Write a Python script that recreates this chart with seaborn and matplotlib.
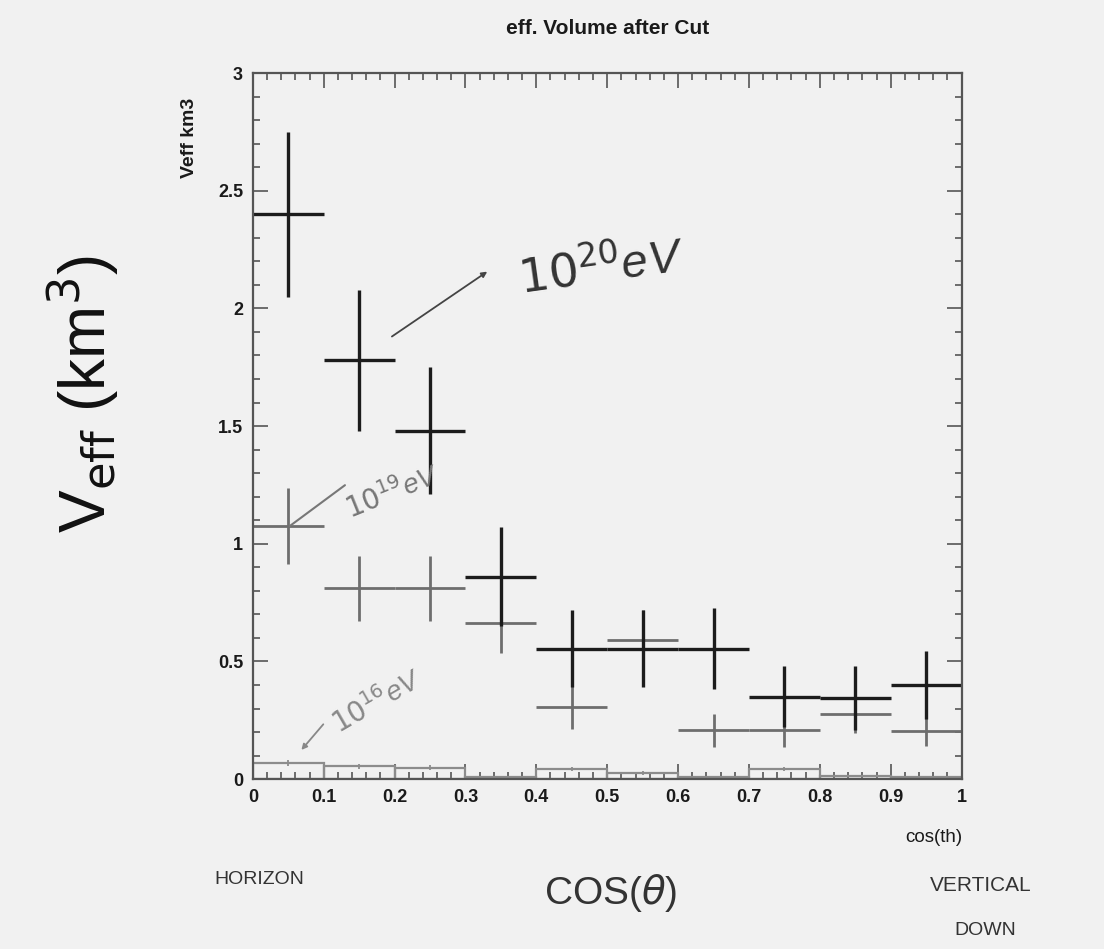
import numpy as np
import pandas as pd
import seaborn as sns
import matplotlib.pyplot as plt
from matplotlib.ticker import MultipleLocator


# bin centres in cos(theta), 10 bins of 0.1
cos_th = [0.05, 0.15, 0.25, 0.35, 0.45, 0.55, 0.65, 0.75, 0.85, 0.95]
bin_edges = [0.0, 0.1, 0.2, 0.3, 0.4, 0.5, 0.6, 0.7, 0.8, 0.9, 1.0]

# 10^20 eV
v20 = [2.40, 1.78, 1.48, 0.86, 0.555, 0.555, 0.555, 0.35, 0.345, 0.40]
e20 = [0.35, 0.30, 0.27, 0.21, 0.165, 0.165, 0.17, 0.13, 0.135, 0.145]
# 10^19 eV
v19 = [1.075, 0.81, 0.81, 0.665, 0.305, 0.59, 0.208, 0.208, 0.275, 0.205]
e19 = [0.16, 0.14, 0.14, 0.13, 0.09, 0.13, 0.07, 0.07, 0.08, 0.065]
# 10^16 eV
v16 = [0.069, 0.055, 0.049, 0.007, 0.043, 0.026, 0.007, 0.043, 0.012, 0.007]
e16 = [0.012, 0.010, 0.010, 0.004, 0.009, 0.007, 0.004, 0.009, 0.005, 0.004]

x_ticks = [0, 0.1, 0.2, 0.3, 0.4, 0.5, 0.6, 0.7, 0.8, 0.9, 1]
x_ticklabels = ["0", "0.1", "0.2", "0.3", "0.4", "0.5", "0.6", "0.7", "0.8", "0.9", "1"]
y_ticks = [0, 0.5, 1, 1.5, 2, 2.5, 3]
y_ticklabels = ["0", "0.5", "1", "1.5", "2", "2.5", "3"]

df16 = pd.DataFrame({"cos": cos_th, "veff": v16})

sns.set_theme(style="ticks")
plt.rcParams["font.family"] = ["Liberation Sans", "DejaVu Sans"]

bg = "#f1f1f1"
fig = plt.figure(figsize=(11.04, 9.49), dpi=100, facecolor=bg)
ax = fig.add_axes([0.229, 0.179, 0.642, 0.744])
ax.set_facecolor(bg)

# 10^16 eV histogram outline
sns.histplot(data=df16, x="cos", weights="veff", bins=bin_edges, fill=False,
             element="bars", color="#8c8c8c", linewidth=1.6, ax=ax)
ax.errorbar(cos_th, v16, yerr=e16, fmt="none", ecolor="#8c8c8c", elinewidth=1.3)

# 10^19 eV
ax.errorbar(cos_th, v19, xerr=0.05, yerr=e19, fmt="none", ecolor="#6e6e6e",
            elinewidth=2.0, capsize=0)
# 10^20 eV
ax.errorbar(cos_th, v20, xerr=0.05, yerr=e20, fmt="none", ecolor="#1c1c1c",
            elinewidth=2.4, capsize=0)

ax.set_xlim(0, 1)
ax.set_ylim(0, 3)
ax.set_xticks(x_ticks)
ax.set_xticklabels(x_ticklabels)
ax.set_yticks(y_ticks)
ax.set_yticklabels(y_ticklabels)
ax.xaxis.set_minor_locator(MultipleLocator(0.02))
ax.yaxis.set_minor_locator(MultipleLocator(0.1))
ax.tick_params(which="both", direction="in", top=True, right=True,
               color="#555555", width=1.2)
ax.tick_params(which="major", length=11, labelsize=13, labelcolor="#1a1a1a", pad=7)
ax.tick_params(which="minor", length=5)
for lab in ax.get_xticklabels() + ax.get_yticklabels():
    lab.set_fontweight("bold")
for sp in ax.spines.values():
    sp.set_color("#555555")
    sp.set_linewidth(1.6)

ax.set_xlabel("")
ax.set_ylabel("")
fig.text(0.872, 0.117, "cos(th)", ha="right", va="center", fontsize=13.5, color="#1a1a1a")
fig.text(0.172, 0.855, "Veff km3", rotation=90, ha="center", va="center",
         fontsize=14, color="#1a1a1a", fontweight="bold")
fig.text(0.55, 0.970, "eff. Volume after Cut", ha="center", va="center",
         fontsize=15, fontweight="bold", color="#1a1a1a")

# handwritten annotations
fig.text(0.075, 0.585, r"V$_{\rm eff}$ (km$^{3}$)", rotation=90, ha="center", va="center",
         fontsize=46, color="#111111")
ax.annotate("", xy=(0.334, 2.163), xytext=(0.193, 1.874),
            arrowprops=dict(arrowstyle="-|>", color="#444444", lw=1.3, mutation_scale=8))
ax.text(0.37, 2.17, r"$10^{20}$eV", fontsize=34, color="#333333", style="italic",
        rotation=8, va="center")
ax.plot([0.052, 0.130], [1.075, 1.249], color="#777777", lw=1.5)
ax.text(0.125, 1.22, r"$10^{19}$eV", fontsize=20, color="#777777", style="italic",
        rotation=22, va="center")
ax.annotate("", xy=(0.066, 0.115), xytext=(0.102, 0.242),
            arrowprops=dict(arrowstyle="-|>", color="#888888", lw=1.3, mutation_scale=8))
ax.text(0.105, 0.33, r"$10^{16}$eV", fontsize=20, color="#888888", style="italic",
        rotation=30, va="center")

fig.text(0.235, 0.073, "HORIZON", fontsize=14, color="#333333", ha="center", va="center")
fig.text(0.553, 0.059, r"COS($\theta$)", fontsize=28, color="#333333", ha="center", va="center")
fig.text(0.888, 0.067, "VERTICAL", fontsize=15, color="#333333", ha="center", va="center")
fig.text(0.892, 0.020, "DOWN", fontsize=14, color="#333333", ha="center", va="center")

fig.savefig("out.png", dpi=100, facecolor=bg)
